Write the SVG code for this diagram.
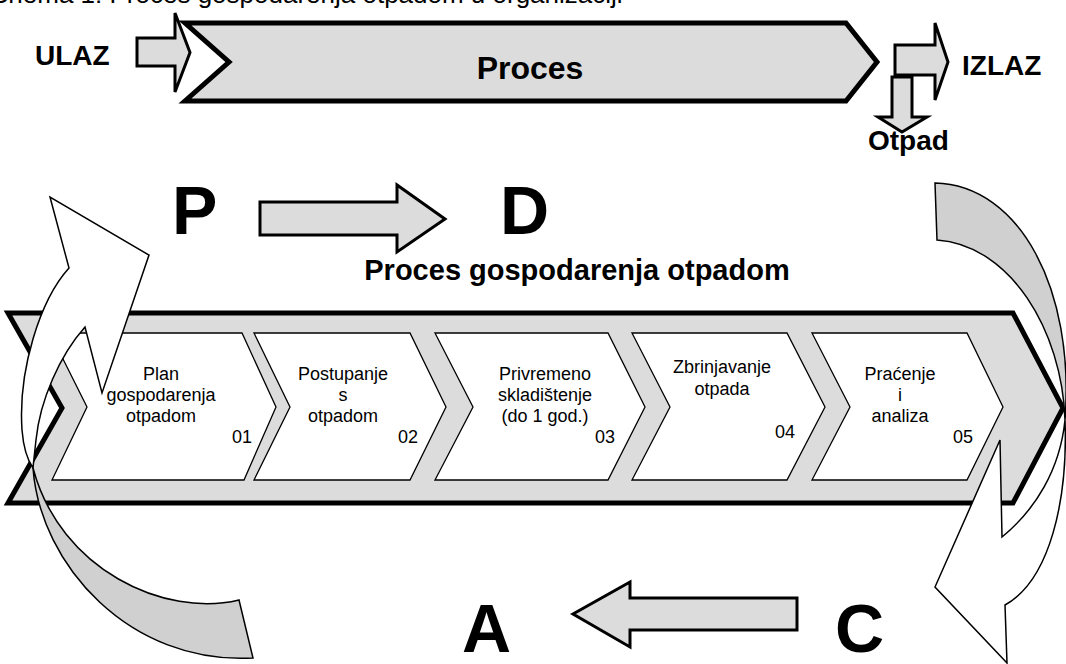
<svg xmlns="http://www.w3.org/2000/svg" width="1066" height="664" viewBox="0 0 1066 664">
<style>
.t{font-family:"Liberation Sans",Arial,sans-serif;fill:#000}
.b{font-weight:bold}
.s{font-size:18px;text-anchor:middle}
.n{font-size:18px;text-anchor:end}
.arr{fill:#dcdcdc;stroke:#000;stroke-width:3;stroke-linejoin:miter}
.chev{fill:#fff;stroke:#000;stroke-width:1.3}
.curW{fill:#fff;stroke:#000;stroke-width:1.5;stroke-linejoin:miter}
.curG{fill:#d0d0d0;stroke:#000;stroke-width:1.5}
</style>
<rect width="1066" height="664" fill="#fff"/>
<text class="t" x="-9" y="3" font-size="26">Shema 1: Proces gospodarenja otpadom u organizaciji</text>

<g id="ulaz">
<polygon class="arr" points="137,38 175,38 175,13 190,52.5 175,92 175,66 137,66"/>
<text class="t b" x="35" y="65" font-size="28">ULAZ</text>
</g>
<g id="proces">
<polygon points="185,23 846,23 877,62 846,101 185,101 229,62" fill="#dcdcdc" stroke="#000" stroke-width="5"/>
<text class="t b" x="530" y="79" font-size="32" text-anchor="middle">Proces</text>
</g>
<g id="izlaz">
<polygon class="arr" points="895,45 935,45 935,23 948,62 935,100 935,75 895,75"/>
<text class="t b" x="962" y="75" font-size="28">IZLAZ</text>
</g>
<g id="otpad">
<polygon class="arr" points="892,77 912,77 912,117 927,117 902,132 878,117 892,117"/>
<text class="t b" x="868" y="150" font-size="28">Otpad</text>
</g>

<g id="band">
<polygon points="8,313 1013,313 1063,408 1013,503 8,503 62,408" fill="#dcdcdc" stroke="#000" stroke-width="5"/>
</g>
<g id="step01">
<polygon class="chev" points="50,333 242,333 276,407 244,480 52,480 87,407"/>
<text class="t s" x="161" y="380">Plan</text>
<text class="t s" x="161" y="401">gospodarenja</text>
<text class="t s" x="161" y="422">otpadom</text>
<text class="t n" x="252" y="443">01</text>
</g>
<g id="step02">
<polygon class="chev" points="254,333 410,333 446,407 410,480 254,480 290,407"/>
<text class="t s" x="343" y="380">Postupanje</text>
<text class="t s" x="343" y="401">s</text>
<text class="t s" x="343" y="422">otpadom</text>
<text class="t n" x="418" y="443">02</text>
</g>
<g id="step03">
<polygon class="chev" points="435,333 608,333 645,407 608,480 435,480 473,407"/>
<text class="t s" x="545" y="380">Privremeno</text>
<text class="t s" x="545" y="401">skladištenje</text>
<text class="t s" x="545" y="422">(do 1 god.)</text>
<text class="t n" x="615" y="443">03</text>
</g>
<g id="step04">
<polygon class="chev" points="632,333 787,333 825,407 787,480 632,480 670,407"/>
<text class="t s" x="722" y="373">Zbrinjavanje</text>
<text class="t s" x="722" y="395">otpada</text>
<text class="t n" x="795" y="438">04</text>
</g>
<g id="step05">
<polygon class="chev" points="812,333 967,333 1003,407 967,480 812,480 850,407"/>
<text class="t s" x="900" y="380">Praćenje</text>
<text class="t s" x="900" y="401">i</text>
<text class="t s" x="900" y="422">analiza</text>
<text class="t n" x="973" y="443">05</text>
</g>

<g id="pdca-letters">
<text class="t b" x="172" y="234" font-size="68">P</text>
<text class="t b" x="500" y="234" font-size="68">D</text>
<text class="t b" x="462" y="652" font-size="68">A</text>
<text class="t b" x="835" y="652" font-size="68">C</text>
<text class="t b" x="577" y="280" font-size="29" text-anchor="middle">Proces gospodarenja otpadom</text>
</g>

<g id="connectors">
<polygon class="arr" points="260,202 397,202 397,185 445,219 397,252 397,235 260,235"/>
<polygon class="arr" points="797,598 630,598 630,582 573,614 630,647 630,630 797,630"/>
<path class="curG" d="M33,468 C40,565 130,665 253,658 L239,600 C165,618 60,570 33,468 Z"/>
<path class="curW" d="M69,268 L50,197 L149,255 L102,393 L85,327 C60,355 40,400 36,440 Q34,458 33,468 Q24,455 22,430 C18,370 40,300 69,268 Z"/>
<path class="curG" d="M935,183 C1020,185 1075,290 1065,420 C1062,330 1010,245 937,240 Z"/>
<path class="curW" d="M1065,420 C1068,500 1050,580 1005,605 L1007,663 L935,587 L1000,440 L1002,537 C1035,510 1060,470 1065,420 Z"/>
</g>
</svg>
